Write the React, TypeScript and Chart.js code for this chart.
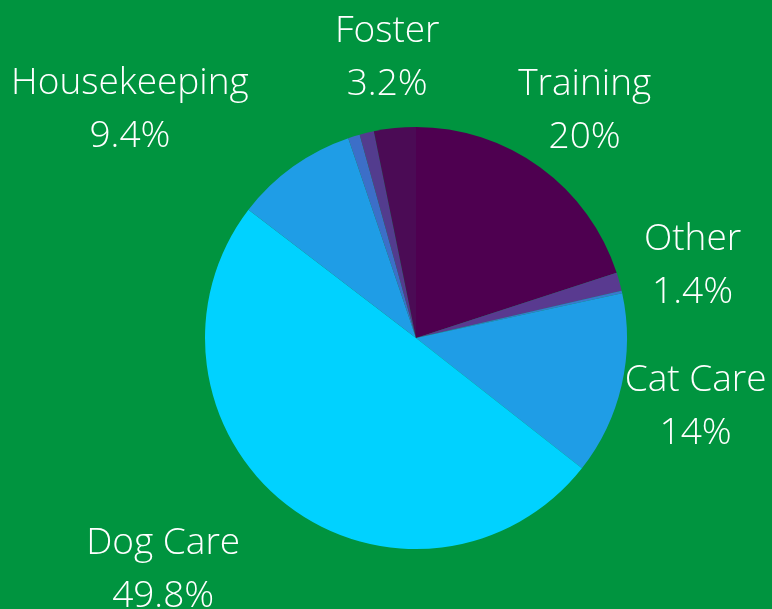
import React, { useEffect, useRef } from "react";
import { Chart, registerables } from "chart.js";

Chart.register(...registerables);

const categories = ["Training", "Other", "", "Cat Care", "Dog Care", "Housekeeping", "", "", "Foster"];
const values = [20, 1.4, 0.2, 14, 49.8, 9.4, 0.9, 1.1, 3.2];
const valueLabels = ["20%", "1.4%", "", "14%", "49.8%", "9.4%", "", "", "3.2%"];
const colors = ["#4E0050", "#593A90", "#3A78CF", "#1F9DE6", "#00D2FF", "#1F9DE6", "#3C6FC8", "#533C8E", "#4B0B55"];
const BG = "#00943F";
const FONT = "300 37px 'Open Sans', sans-serif";

const labelPlugin = {
  id: "outLabels",
  afterDatasetsDraw(chart: any) {
    const ctx = chart.ctx;
    const meta = chart.getDatasetMeta(0);
    ctx.save();
    ctx.font = FONT;
    ctx.fillStyle = "#ffffff";
    ctx.textBaseline = "middle";
    ctx.textAlign = "center";
    const lineH = 53;
    meta.data.forEach((arc: any, i: number) => {
      if (!categories[i]) return;
      const p = arc.getProps(["x", "y", "startAngle", "endAngle", "outerRadius"], true);
      const mid = (p.startAngle + p.endAngle) / 2;
      const r = p.outerRadius * 1.36;
      const vx = Math.cos(mid);
      const vy = Math.sin(mid);
      let x = p.x + vx * r;
      const y = p.y + vy * r + 5;
      const w = Math.max(ctx.measureText(categories[i]).width, ctx.measureText(valueLabels[i]).width);
      if (vx < -0.3) x -= w / 2;
      ctx.fillText(categories[i], x, y - lineH / 2);
      ctx.fillText(valueLabels[i], x, y + lineH / 2);
    });
    ctx.restore();
  },
};

export default function App() {
  const ref = useRef<HTMLCanvasElement | null>(null);
  useEffect(() => {
    document.body.style.margin = "0";
    document.body.style.background = BG;
    const chart = new Chart(ref.current as HTMLCanvasElement, {
      type: "pie",
      data: {
        labels: categories,
        datasets: [
          {
            data: values,
            backgroundColor: colors,
            borderWidth: 0,
          },
        ],
      },
      options: {
        responsive: false,
        animation: false,
        layout: { padding: { left: 205, right: 145, top: 127, bottom: 60 } },
        plugins: {
          legend: { display: false },
          tooltip: { enabled: false },
        },
      },
      plugins: [labelPlugin],
    });
    return () => chart.destroy();
  }, []);
  return (
    <div style={{ width: 772, height: 609, background: BG }}>
      <canvas ref={ref} width={772} height={609} />
    </div>
  );
}
